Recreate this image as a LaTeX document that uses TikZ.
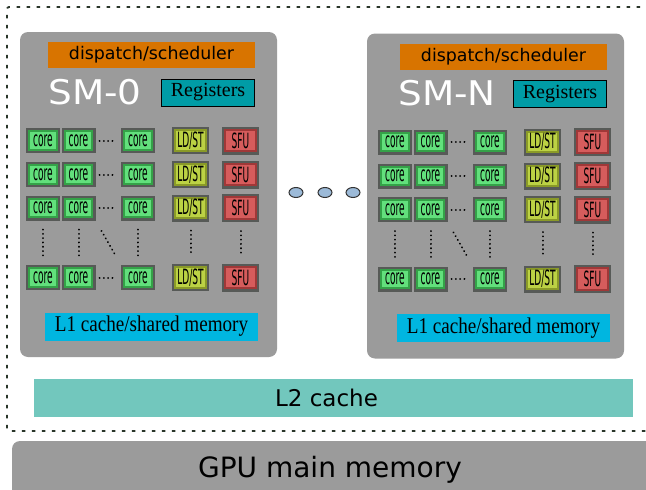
\documentclass[tikz,border=0pt]{standalone}
\usepackage{fontspec}
\setmainfont{Liberation Serif}
\setsansfont{DejaVu Sans}
\usetikzlibrary{calc, shapes.geometric}
\definecolor{smgray}{HTML}{9B9B9B}
\definecolor{sched}{HTML}{D87400}
\definecolor{regs}{HTML}{009CA6}
\definecolor{lone}{HTML}{00B6E0}
\definecolor{ltwo}{HTML}{72C7BD}
\definecolor{unitframe}{HTML}{575A57}
\definecolor{corefill}{HTML}{62E07C}
\definecolor{coreedge}{HTML}{34A248}
\definecolor{ldstfill}{HTML}{BCD244}
\definecolor{ldstedge}{HTML}{8A9A28}
\definecolor{sfufill}{HTML}{D65C5C}
\definecolor{sfuedge}{HTML}{A03838}
\definecolor{ovalfill}{HTML}{9CBAD8}
\definecolor{border}{HTML}{2A362A}
\newcommand{\squeeze}[1]{\scalebox{0.43}[1]{#1}}

\begin{document}
\begin{tikzpicture}[
  x=1pt, y=-1pt,
  smbox/.style={fill=smgray, rounded corners=8pt},
  bar/.style={inner sep=0pt, font=\sffamily\fontsize{17.4}{18}\selectfont},
  regbox/.style={draw=black, line width=0.9pt, fill=regs, inner sep=0pt,
    minimum width=93pt, minimum height=27pt, font=\fontsize{20}{20}\selectfont},
  smlabel/.style={text=white, inner sep=0pt, font=\sffamily\fontsize{34}{36}\selectfont},
  unit/.style={draw=unitframe, line width=2.2pt, inner sep=0pt,
    font=\sffamily\fontsize{21}{21}\selectfont,
    path picture={\draw[#1, line width=6pt] (path picture bounding box.south west)
      rectangle (path picture bounding box.north east);}},
  core/.style={unit=coreedge, fill=corefill, minimum width=31.8pt, minimum height=22.8pt},
  ldst/.style={unit=ldstedge, fill=ldstfill, minimum width=34.8pt, minimum height=24.8pt},
  sfu/.style={unit=sfuedge, fill=sfufill, minimum width=34.8pt, minimum height=25.8pt},
  hdots/.style={line width=2pt, line cap=round, dash pattern=on 0.1pt off 4.2pt, shorten <=4pt, shorten >=6pt},
  vdots/.style={line width=2pt, line cap=round, dash pattern=on 0.1pt off 4.2pt, shorten <=9pt, shorten >=9pt},
  oval/.style={ellipse, draw=black!80, line width=1pt, fill=ovalfill,
    minimum width=14pt, minimum height=10pt, inner sep=0pt},
]
\useasboundingbox (0,0) rectangle (646,490);
\clip (0,0) rectangle (646,490);

% ---- chip border ----
\draw[border, line width=1.8pt, dash pattern=on 3.5pt off 6.5pt, rounded corners=2pt]
  (680,7) -- (7,7) -- (7,431) -- (680,431);

% ---- streaming multiprocessors ----
\foreach \n/\dx/\dy/\bx/\lbl in {sm0/0/0/20/SM-0, smN/352/1.5/15/SM-N} {
  \begin{scope}[shift={(\dx,\dy)}]
    \fill[smbox] (\bx,32) rectangle ++(257,325);
    \node[bar, fill=sched, minimum width=207pt, minimum height=26pt] (\n-sched) at (151.5,55) {dispatch/scheduler};
    \node[smlabel, anchor=base] (\n-name) at (95,104) {\scalebox{1.1}[1]{\lbl}};
    \node[regbox] (\n-regs) at (208,92.5) {Registers};
    % unit grid: three cores, one load/store, one special function unit per row
    \foreach \r/\yy in {1/140.5, 2/174.5, 3/208, 4/277.5} {
      \foreach \c/\xx in {1/43, 2/78.5, 3/138}
        \node[core] (\n-c\r\c) at (\xx,\yy) {\squeeze{core}};
      \node[ldst] (\n-l\r) at (190.5,\yy) {\squeeze{LD/ST}};
      \node[sfu] (\n-s\r) at (240.5,\yy) {\squeeze{SFU}};
      \draw[hdots] (\n-c\r2) -- (\n-c\r3);
    }
    \foreach \c in {1,2,3}
      \draw[vdots] (\n-c3\c) -- (\n-c4\c);
    \draw[vdots] (\n-l3) -- (\n-l4);
    \draw[vdots] (\n-s3) -- (\n-s4);
    \draw[vdots, shorten <=12pt, shorten >=12pt] (\n-c32.south east) -- (\n-c43.north west);
    \node[fill=lone, inner sep=0pt, minimum width=213pt, minimum height=28pt] (\n-lone)
      at (151.5,326.5) {\fontsize{22.5}{22}\selectfont\scalebox{0.85}[1]{L1 cache/shared memory}};
  \end{scope}
}

% ---- more SMs in between ----
\foreach \i/\xx in {1/296, 2/325, 3/353}
  \node[oval] (more\i) at (\xx,192.5) {};

% ---- shared L2 and device memory ----
\node[fill=ltwo, inner sep=0pt, minimum width=599pt, minimum height=38pt,
  font=\sffamily\fontsize{23}{24}\selectfont] (ltwo) at (333.5,398) {\hspace*{-14pt}L2 cache};
\fill[smbox] (12,441) rectangle (700,520);
\node[anchor=base, inner sep=0pt, font=\sffamily\fontsize{28}{28}\selectfont] (gpu) at (330,477) {GPU main memory};

\end{tikzpicture}
\end{document}
